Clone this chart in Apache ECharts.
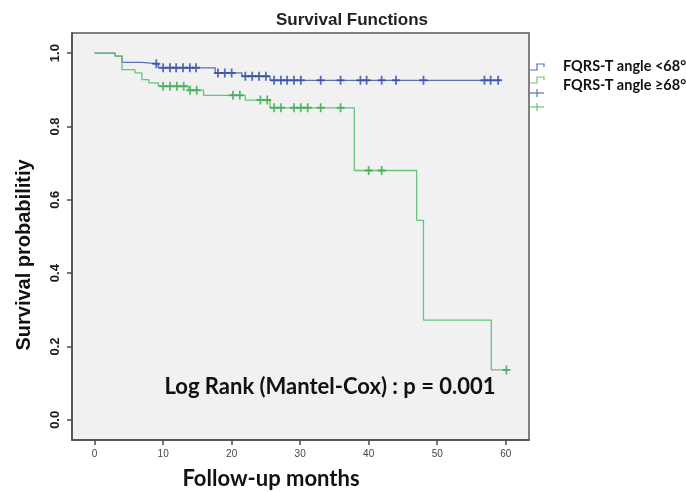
<!DOCTYPE html>
<html>
<head>
<meta charset="utf-8">
<script src="https://cdn.jsdelivr.net/npm/echarts@6/dist/echarts.min.js"></script>
<style>
html,body{margin:0;padding:0;background:#fff;}
#c{width:686px;height:492px;}
</style>
</head>
<body>
<div id="c"></div>
<script>
// ---- data ----
const xTicks = [0, 10, 20, 30, 40, 50, 60];
const yTicks = [0, 0.2, 0.4, 0.6, 0.8, 1.0];

const seriesNames = ['FQRS-T angle <68°', 'FQRS-T angle ≥68°'];

// Kaplan–Meier step points (time in months, survival after event)
const blueTimes  = [0, 3, 4, 6.9, 9.3, 17.6, 21.5, 25.6, 59.2];
const blueSurv   = [1, 0.992, 0.975, 0.971, 0.960, 0.946, 0.937, 0.926, 0.926];

const greenTimes = [0, 3, 4, 5.9, 6.9, 7.9, 9.3, 13.7, 15.9, 22.0, 25.6, 37.9, 47.0, 48.0, 57.9, 60.2];
const greenSurv  = [1, 0.992, 0.955, 0.946, 0.928, 0.919, 0.910, 0.899, 0.885, 0.872, 0.851, 0.680, 0.544, 0.272, 0.136, 0.136];

// censored observations
const blueCensTimes = [9.0, 10, 11, 11.9, 12.9, 13.9, 14.8, 18, 19, 20, 22, 23, 24, 25, 26.2, 27.2, 28.1, 29.1, 30.1, 33, 35.9, 38.8, 39.7, 41.9, 44.0, 48.0, 56.9, 57.8, 58.9];
const blueCensSurv  = [0.971, 0.960, 0.960, 0.960, 0.960, 0.960, 0.960, 0.946, 0.946, 0.946, 0.937, 0.937, 0.937, 0.937, 0.926, 0.926, 0.926, 0.926, 0.926, 0.926, 0.926, 0.926, 0.926, 0.926, 0.926, 0.926, 0.926, 0.926, 0.926];

const greenCensTimes = [10, 11, 12, 13, 13.95, 14.9, 20.2, 21.2, 24.2, 25.2, 26.2, 27.2, 29.1, 30.1, 31.1, 33, 35.9, 40.0, 41.9, 60.1];
const greenCensSurv  = [0.910, 0.910, 0.910, 0.910, 0.899, 0.899, 0.885, 0.885, 0.872, 0.872, 0.851, 0.851, 0.851, 0.851, 0.851, 0.851, 0.851, 0.680, 0.680, 0.136];

const statText = 'Log Rank (Mantel-Cox) : p = 0.001';
const titleText = 'Survival Functions';
const xTitle = 'Follow-up months';
const yTitle = 'Survival probabilitiy';

// ---- styles ----
const BLUE = '#5b70b9', BLUE_C = '#2f4aa6';
const GREEN = '#68c47c', GREEN_C = '#3aa84c';
const PLUS = 'path://M3.1,0H4.9V3.1H8V4.9H4.9V8H3.1V4.9H0V3.1H3.1Z';
const CAL = 'Lato, "Open Sans", sans-serif';
const ARIAL = '"Liberation Sans", Arial, sans-serif';

const zip = (a, b) => a.map((v, i) => [v, b[i]]);

const chart = echarts.init(document.getElementById('c'), null, {renderer: 'canvas'});
chart.setOption({
  backgroundColor: '#ffffff',
  animation: false,
  grid: {
    left: 72, top: 33, right: 157, bottom: 52,
    show: true, backgroundColor: '#f1f1f1', borderColor: '#5a5a5a', borderWidth: 1.5
  },
  xAxis: {
    type: 'value', min: -3.3, max: 63.4,
    axisLine: {show: true, onZero: false, lineStyle: {color: '#4a4a4a', width: 1.5}},
    axisTick: {show: true, length: 5, customValues: xTicks, lineStyle: {color: '#4a4a4a', width: 1.5}},
    axisLabel: {customValues: xTicks, margin: 9, fontFamily: ARIAL, fontSize: 10, color: '#444'},
    splitLine: {show: false}
  },
  yAxis: {
    type: 'value', min: -0.055, max: 1.055,
    axisLine: {show: true, onZero: false, lineStyle: {color: '#4a4a4a', width: 1.5}},
    axisTick: {show: true, length: 5, customValues: yTicks, lineStyle: {color: '#4a4a4a', width: 1.5}},
    axisLabel: {customValues: yTicks, rotate: 90, margin: 10, fontFamily: ARIAL, fontSize: 13, fontWeight: 'bold', color: '#1a1a1a',
      formatter: v => v.toFixed(1)},
    splitLine: {show: false}
  },
  series: [
    {name: seriesNames[0], type: 'line', step: 'end', data: zip(blueTimes, blueSurv), showSymbol: false,
     lineStyle: {color: BLUE, width: 1.3}, z: 2},
    {name: seriesNames[1], type: 'line', step: 'end', data: zip(greenTimes, greenSurv), showSymbol: false,
     lineStyle: {color: GREEN, width: 1.3}, z: 2},
    {name: seriesNames[0] + ' censored', type: 'scatter', data: zip(blueCensTimes, blueCensSurv),
     symbol: PLUS, symbolSize: [8, 9], itemStyle: {color: BLUE_C}, z: 3},
    {name: seriesNames[1] + ' censored', type: 'scatter', data: zip(greenCensTimes, greenCensSurv),
     symbol: PLUS, symbolSize: [8, 9], itemStyle: {color: GREEN_C}, z: 3}
  ],
  graphic: [
    {type: 'text', x: 352, y: 20, style: {text: titleText, font: 'bold 17px ' + ARIAL, fill: '#222', align: 'center', verticalAlign: 'middle'}},
    {type: 'text', x: 24, y: 255, rotation: Math.PI / 2, style: {text: yTitle, font: 'bold 20px ' + ARIAL, fill: '#111', align: 'center', verticalAlign: 'middle'}},
    {type: 'text', x: 271, y: 479, style: {text: xTitle, font: 'bold 22px ' + CAL, fill: '#111', align: 'center', verticalAlign: 'middle'}},
    {type: 'text', x: 330, y: 387, style: {text: statText, font: 'bold 22px ' + CAL, fill: '#111', align: 'center', verticalAlign: 'middle'}},
    // legend
    {type: 'polyline', shape: {points: [[530, 70], [537, 70], [537, 64], [544, 64], [544, 67]]}, style: {stroke: BLUE, lineWidth: 1.2, fill: null}},
    {type: 'polyline', shape: {points: [[530, 83], [537, 83], [537, 77], [544, 77], [544, 80]]}, style: {stroke: GREEN, lineWidth: 1.2, fill: null}},
    {type: 'polyline', shape: {points: [[530, 93], [544, 93]]}, style: {stroke: BLUE, lineWidth: 1.2}},
    {type: 'polyline', shape: {points: [[537, 89], [537, 97]]}, style: {stroke: BLUE, lineWidth: 1.2}},
    {type: 'polyline', shape: {points: [[530, 107], [544, 107]]}, style: {stroke: GREEN, lineWidth: 1.2}},
    {type: 'polyline', shape: {points: [[537, 103], [537, 111]]}, style: {stroke: GREEN, lineWidth: 1.2}},
    {type: 'text', x: 563, y: 66, style: {text: seriesNames[0], font: 'bold 14.5px ' + CAL, fill: '#111', verticalAlign: 'middle'}},
    {type: 'text', x: 563, y: 85, style: {text: seriesNames[1], font: 'bold 14.5px ' + CAL, fill: '#111', verticalAlign: 'middle'}}
  ]
});
</script>
</body>
</html>
